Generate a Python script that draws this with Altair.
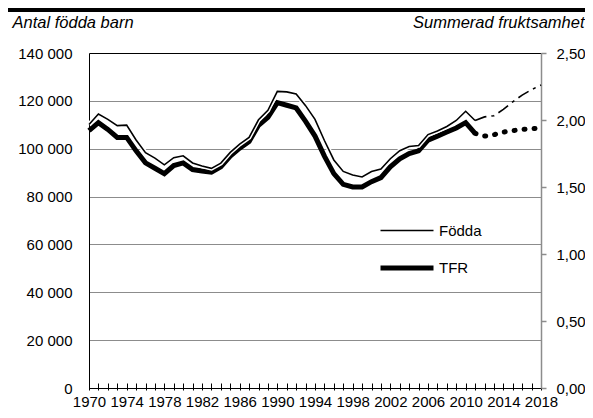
import altair as alt
import pandas as pd

years = list(range(1970, 2012))
fodda = [110150, 114484, 112273, 109663, 109874, 103632, 98345, 96057, 93248, 96255,
         97064, 94065, 92748, 91780, 93968, 98463, 101950, 104699, 112080, 116023,
         123938, 123737, 122848, 117998, 112257, 103422, 95297, 90502, 89028, 88173,
         90441, 91466, 95815, 99157, 100928, 101346, 105913, 107421, 109301, 111801,
         115641, 111770]
tfr = [1.92, 1.98, 1.93, 1.87, 1.87, 1.77, 1.68, 1.64, 1.60, 1.66,
       1.68, 1.63, 1.62, 1.61, 1.65, 1.73, 1.79, 1.84, 1.96, 2.02,
       2.13, 2.11, 2.09, 1.99, 1.88, 1.73, 1.60, 1.52, 1.50, 1.50,
       1.54, 1.57, 1.65, 1.71, 1.75, 1.77, 1.85, 1.88, 1.91, 1.94,
       1.98, 1.90]

proj_years = [2011, 2012, 2013, 2014, 2015, 2016, 2017, 2018]
fodda_proj = [111770, 113300, 113800, 116400, 119600, 122400, 124700, 126600]
tfr_proj = [1.90, 1.88, 1.89, 1.91, 1.92, 1.93, 1.935, 1.94]

tick_years = list(range(1970, 2019))
left_ticks = [0, 20000, 40000, 60000, 80000, 100000, 120000, 140000]
right_ticks = [0, 0.5, 1.0, 1.5, 2.0, 2.5]

hist = pd.DataFrame({"year": years, "fodda": fodda, "tfr": tfr})
proj = pd.DataFrame({"year": proj_years, "fodda": fodda_proj, "tfr": tfr_proj})

LABEL_FONT = "Liberation Sans, Arial, sans-serif"
TITLE_FONT = "Liberation Sans, Arial, sans-serif"
FS = 15

x_enc = alt.X(
    "year:Q",
    scale=alt.Scale(domain=[1970, 2018], nice=False, zero=False),
    axis=alt.Axis(
        values=tick_years,
        labelExpr="(datum.value - 1970) % 4 === 0 ? datum.value : ''",
        domain=False, grid=False, ticks=True, tickColor="black", tickSize=7,
        offset=-5, labelPadding=4, labelFontSize=FS, labelFont=LABEL_FONT,
        labelColor="black", labelOverlap=False, title=None, labelFlush=False,
    ),
)

y_left = alt.Y(
    "fodda:Q",
    scale=alt.Scale(domain=[0, 140000], nice=False),
    axis=alt.Axis(
        orient="left", values=left_ticks,
        labelExpr="replace(format(datum.value, ','), ',', ' ')",
        domain=True, domainColor="black", ticks=False,
        grid=True,
        gridColor={"condition": {"test": "datum.value === 0 || datum.value === 140000", "value": "black"},
                   "value": "#8c8c8c"},
        gridWidth=1.2,
        labelPadding=17, labelFontSize=FS, labelFont=LABEL_FONT, labelColor="black",
        title="Antal födda barn", titleAngle=0, titleAlign="left", titleBaseline="alphabetic",
        titleX=-77, titleY=-26, titleFont=TITLE_FONT, titleFontStyle="italic",
        titleFontWeight="normal", titleFontSize=16.5, titleColor="black",
    ),
)

y_right = alt.Y(
    "tfr:Q",
    scale=alt.Scale(domain=[0, 2.5], nice=False),
    axis=alt.Axis(
        orient="right", values=right_ticks,
        labelExpr="replace(format(datum.value, '.2f'), '.', ',')",
        domain=True, domainColor="#8c8c8c", domainWidth=1.5, ticks=True, tickColor="#8c8c8c",
        tickSize=5, tickWidth=1.5, grid=False,
        labelPadding=10, labelFontSize=FS, labelFont=LABEL_FONT, labelColor="black",
        title="Summerad fruktsamhet", titleAngle=0, titleAlign="right", titleBaseline="alphabetic",
        titleX=43, titleY=-26, titleFont=TITLE_FONT, titleFontStyle="italic",
        titleFontWeight="normal", titleFontSize=16.5, titleColor="black",
    ),
)

sw_scale = alt.Scale(domain=["Födda", "TFR"], range=[1.6, 5])
legend = alt.Legend(
    title=None, orient="none", legendX=289, legendY=150,
    symbolType="stroke", symbolSize=2809, symbolStrokeColor="black",
    rowPadding=-18, labelOffset=3, labelFont=LABEL_FONT, labelFontSize=FS,
    labelColor="black", padding=0,
)

tfr_line = alt.Chart(hist).transform_calculate(series="'TFR'").mark_line(
    color="black", strokeJoin="miter"
).encode(x=x_enc, y=y_right,
         strokeWidth=alt.StrokeWidth("series:N", scale=sw_scale, legend=legend))

tfr_p = alt.Chart(proj).mark_line(
    color="black", strokeWidth=5, strokeDash=[1, 9], strokeCap="round"
).encode(x=x_enc, y=y_right)

right_group = alt.layer(tfr_line, tfr_p)

fodda_halo = alt.Chart(hist).mark_line(color="white", strokeWidth=4.5).encode(x=x_enc, y=y_left)
fodda_line = alt.Chart(hist).transform_calculate(series="'Födda'").mark_line(
    color="black"
).encode(x=x_enc, y=y_left,
         strokeWidth=alt.StrokeWidth("series:N", scale=sw_scale, legend=legend))
fodda_p = alt.Chart(proj).mark_line(
    color="black", strokeWidth=1.6, strokeDash=[12, 5, 3, 5]
).encode(x=x_enc, y=y_left)

left_group = alt.layer(fodda_halo, fodda_line, fodda_p)

top_bar = alt.Chart(pd.DataFrame({"v": [0]})).mark_rule(color="black", strokeWidth=4).encode(
    x=alt.value(-81), x2=alt.value(496), y=alt.value(-43)
)

chart = alt.layer(right_group, left_group, top_bar).resolve_scale(
    y="independent"
).properties(
    width=452, height=335,
    padding={"left": 81, "top": 45, "right": 44, "bottom": 22},
    autosize=alt.AutoSizeParams(type="none"),
    background="white",
).configure_view(stroke=None)

chart.save("out.html", embed_options={"renderer": "svg", "actions": False})
